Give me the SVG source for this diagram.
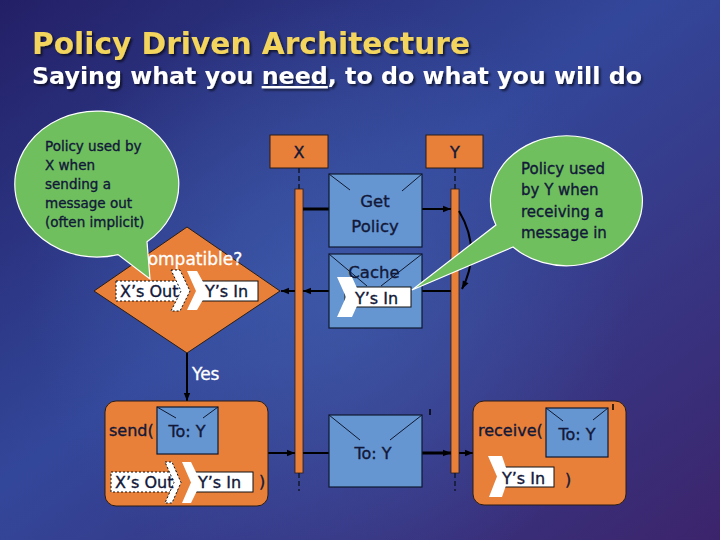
<svg xmlns="http://www.w3.org/2000/svg" width="720" height="540" viewBox="0 0 720 540">
<defs>
  <linearGradient id="bg" x1="0" y1="0" x2="1" y2="1">
    <stop offset="0" stop-color="#231f66"/>
    <stop offset="0.45" stop-color="#33479a"/>
    <stop offset="1" stop-color="#3c246c"/>
  </linearGradient>
  <radialGradient id="glow" cx="330" cy="300" r="300" gradientUnits="userSpaceOnUse">
    <stop offset="0" stop-color="#3f5cab" stop-opacity="0.75"/>
    <stop offset="1" stop-color="#3f5cab" stop-opacity="0"/>
  </radialGradient>
  <filter id="sh" x="-5%" y="-20%" width="110%" height="150%">
    <feDropShadow dx="2" dy="2" stdDeviation="1" flood-color="#000" flood-opacity="0.6"/>
  </filter>
  <marker id="ah" viewBox="0 0 10 10" refX="10" refY="5" markerWidth="10" markerHeight="8" markerUnits="userSpaceOnUse" orient="auto">
    <path d="M0,1 L10,5 L0,9 z" fill="#000"/>
  </marker>
  <style>
    .title{font-family:"DejaVu Sans",sans-serif;font-weight:bold;}
    .nt{font-family:"DejaVu Sans",sans-serif;fill:#121838;stroke:#121838;stroke-width:0.35;}
    .wt{font-family:"DejaVu Sans",sans-serif;fill:#ffffff;stroke:#ffffff;stroke-width:0.3;}
    .box{fill:#e8803a;stroke:#2b1d14;stroke-width:1;}
    .bar{fill:#e8803a;stroke:#2b1d14;stroke-width:0.8;}
    .env{fill:#6596d2;stroke:#101830;stroke-width:1.2;}
    .flap{stroke:#101830;stroke-width:1;fill:none;}
    .life{stroke:#101830;stroke-width:1.5;stroke-dasharray:5,3;fill:none;}
    .tag{fill:#ffffff;stroke:#111;stroke-width:1;}
    .tagd{fill:#ffffff;stroke:#111;stroke-width:1;stroke-dasharray:2,2;}
    .chev{fill:#ffffff;stroke:none;}
    .call{fill:#6fbf5f;stroke:#ffffff;stroke-width:1.2;}
    .conn{stroke:#000;stroke-width:2;fill:none;}
    .thick{stroke-width:3;}
  </style>
</defs>

<rect width="720" height="540" fill="url(#bg)"/>
<rect width="720" height="540" fill="url(#glow)"/>

<g id="title" filter="url(#sh)">
  <text class="title" x="32" y="54" font-size="29.6" fill="#f3d45c" textLength="438" lengthAdjust="spacingAndGlyphs">Policy Driven Architecture</text>
  <text class="title" x="32" y="84" font-size="23.7" fill="#ffffff" textLength="610" lengthAdjust="spacingAndGlyphs">Saying what you <tspan text-decoration="underline">need</tspan>, to do what you will do</text>
</g>

<g id="lifeline-x">
  <rect class="box" x="270" y="135" width="58" height="33"/>
  <text class="nt" x="299" y="158" font-size="16" text-anchor="middle">X</text>
  <line class="life" x1="299" y1="168" x2="299" y2="189"/>
  <rect class="bar" x="295" y="189" width="8" height="284"/>
  <line class="life" x1="299" y1="473" x2="299" y2="491"/>
</g>

<g id="lifeline-y">
  <rect class="box" x="426" y="135" width="57" height="33"/>
  <text class="nt" x="455" y="158" font-size="16" text-anchor="middle">Y</text>
  <line class="life" x1="455" y1="168" x2="455" y2="189"/>
  <rect class="bar" x="451" y="189" width="8" height="284"/>
  <line class="life" x1="455" y1="473" x2="455" y2="491"/>
</g>

<g id="connectors">
  <line class="conn thick" x1="303" y1="209" x2="329" y2="209"/>
  <line class="conn" x1="422" y1="209" x2="451" y2="209" marker-end="url(#ah)"/>
  <path class="conn" d="M459,211 Q482,250 462,289" marker-end="url(#ah)"/>
  <line class="conn" x1="451" y1="291" x2="303" y2="291" marker-end="url(#ah)"/>
  <line class="conn" x1="295" y1="291" x2="281" y2="291" marker-end="url(#ah)"/>
  <line class="conn" x1="187" y1="353" x2="187" y2="401" marker-end="url(#ah)"/>
  <line class="conn" x1="268" y1="453" x2="295" y2="453" marker-end="url(#ah)"/>
  <line class="conn" x1="303" y1="453" x2="329" y2="453"/>
  <line class="conn thick" x1="422" y1="453" x2="451" y2="453" marker-end="url(#ah)"/>
  <line class="conn" x1="459" y1="453" x2="473" y2="453" marker-end="url(#ah)"/>
</g>

<g id="get-policy">
  <rect class="env" x="329" y="174" width="93" height="73"/>
  <path class="flap" d="M329,174 L350,190 M422,174 L402,191"/>
  <text class="nt" x="375" y="207" font-size="16.5" text-anchor="middle">Get</text>
  <text class="nt" x="375" y="232" font-size="16.5" text-anchor="middle">Policy</text>
</g>

<g id="cache">
  <rect class="env" x="329" y="254" width="93" height="74"/>
  <path class="flap" d="M329,254 L367,286 M422,254 L381,286"/>
  <text class="nt" x="374" y="278" font-size="16.5" text-anchor="middle">Cache</text>
  <rect class="tag" x="345" y="287" width="66" height="20"/>
  <polygon class="chev" points="337,277 352,277 361,297 352,317 337,317 346,297"/>
  <text class="nt" x="355" y="304" font-size="16">Y’s In</text>
</g>

<g id="compatible">
  <polygon class="box" points="187,227 280,291 187,353 94,291"/>
  <text class="wt" x="189" y="265" font-size="17" text-anchor="middle">Compatible?</text>
  <rect class="tagd" x="116" y="281" width="67" height="20"/>
  <polygon class="tagd" points="171,270 180,270 190,291 180,311 171,311 181,291"/>
  <text class="nt" x="120" y="297" font-size="16">X’s Out</text>
  <rect class="tag" x="197" y="281" width="61" height="20"/>
  <polygon class="chev" points="187,271 197,271 208,291 197,310 187,310 196,291"/>
  <text class="nt" x="205" y="297" font-size="16">Y’s In</text>
</g>

<g id="yes-label">
  <text class="wt" x="192" y="380" font-size="17">Yes</text>
</g>

<g id="send">
  <rect class="box" x="105" y="401" width="163" height="105" rx="11"/>
  <text class="nt" x="109" y="436" font-size="16">send(</text>
  <rect class="env" x="157" y="407" width="61" height="47"/>
  <path class="flap" d="M157,407 L176,418 M218,407 L203,418"/>
  <text class="nt" x="187" y="437" font-size="16" text-anchor="middle">To: Y</text>
  <rect class="tagd" x="111" y="472" width="66" height="20"/>
  <polygon class="tagd" points="165,462 172,462 181,482.5 172,503 165,503 174,482.5"/>
  <text class="nt" x="115" y="488" font-size="16">X’s Out</text>
  <rect class="tag" x="193" y="472" width="60" height="20"/>
  <polygon class="chev" points="182,462 191,462 201,482.5 191,503 182,503 191,482.5"/>
  <text class="nt" x="198" y="488" font-size="16">Y’s In</text>
  <text class="nt" x="259" y="487" font-size="16">)</text>
</g>

<g id="message">
  <rect class="env" x="329" y="415" width="93" height="72"/>
  <path class="flap" d="M329,415 L360,440 M422,415 L390,440"/>
  <text class="nt" x="373" y="459" font-size="16" text-anchor="middle">To: Y</text>
  <line x1="430" y1="409" x2="430" y2="415" stroke="#000" stroke-width="1.5"/>
</g>

<g id="receive">
  <rect class="box" x="473" y="401" width="153" height="104" rx="11"/>
  <text class="nt" x="478" y="436" font-size="16">receive(</text>
  <rect class="env" x="546" y="408" width="62" height="49"/>
  <path class="flap" d="M546,408 L563,421 M608,408 L593,420"/>
  <text class="nt" x="577" y="440" font-size="16" text-anchor="middle">To: Y</text>
  <line x1="613" y1="404" x2="613" y2="410" stroke="#000" stroke-width="1.5"/>
  <rect class="tag" x="500" y="467" width="54" height="20"/>
  <polygon class="chev" points="488,456 502,456 509,476.5 502,497 489,497 497,476.5"/>
  <text class="nt" x="502" y="484" font-size="16">Y’s In</text>
  <text class="nt" x="565" y="485" font-size="16">)</text>
</g>

<g id="callout-x">
  <path class="call" d="M147,241.8 L150,279 L118,254.6 A82,73 0 1 1 147,241.8 Z"/>
  <g class="nt" font-size="13.5">
    <text x="45" y="151">Policy used by</text>
    <text x="45" y="170">X when</text>
    <text x="45" y="189">sending a</text>
    <text x="45" y="208">message out</text>
    <text x="45" y="227">(often implicit)</text>
  </g>
</g>

<g id="callout-y">
  <path class="call" d="M513,247 L412,290 L495.9,225 A76,65 0 1 1 513,247 Z"/>
  <g class="nt" font-size="15">
    <text x="521" y="174">Policy used</text>
    <text x="521" y="195">by Y when</text>
    <text x="521" y="217">receiving a</text>
    <text x="521" y="238">message in</text>
  </g>
</g>
</svg>
